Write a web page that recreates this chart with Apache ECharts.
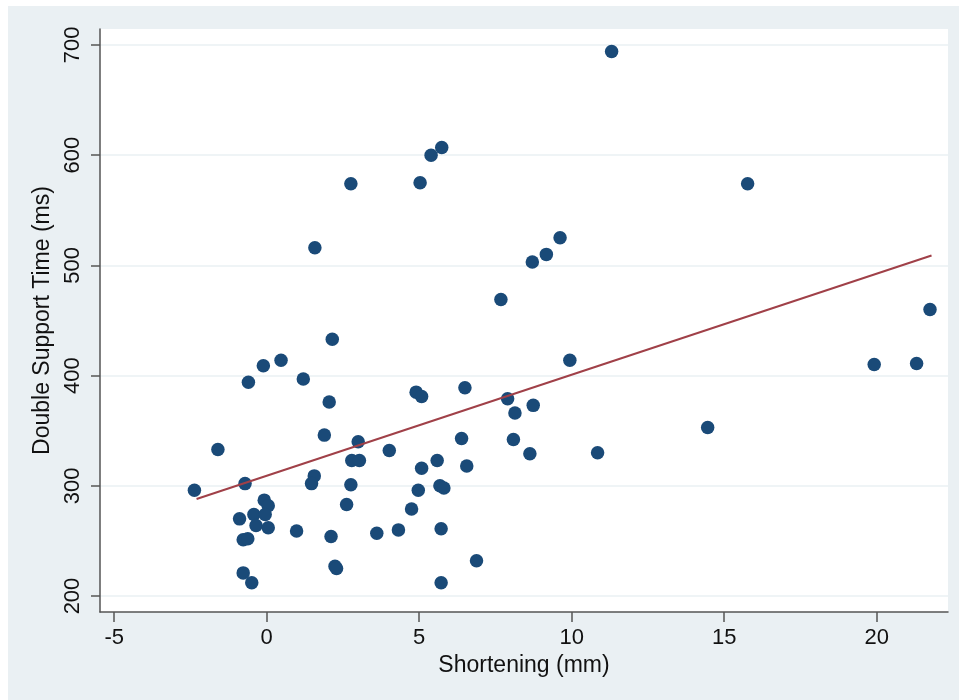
<!DOCTYPE html>
<html>
<head>
<meta charset="utf-8">
<title>Double Support Time vs Shortening</title>
<script src="https://cdn.jsdelivr.net/npm/echarts@6/dist/echarts.min.js"></script>
<style>
  html, body { margin: 0; padding: 0; background: #fff; }
  #main { width: 959px; height: 700px; }
</style>
</head>
<body>
<div id="main"></div>
<script>
  /******************/
  //region    //data

  // shortening (mm) and double support time (ms)
  let shortening = [
    2.76, 5.03, 5.39, 5.74, 1.58, 2.15, 11.31, 15.77, 9.62, 9.17,
    8.71, 7.68, 21.75, 9.94, 19.92, 21.31, 7.90, 8.74, 8.14, 14.46,
    8.09, 8.63, 10.85, 6.88, 0.47, -0.11, -0.60, 1.20, 2.05, 6.50,
    4.90, 5.08, 1.89, -1.60, 3.00, 4.02, 6.39, 2.79, 3.04, 5.59,
    5.08, 6.56, 1.56, 1.47, -0.71, -2.37, 2.76, 4.97, 5.68, 5.81,
    -0.08, 0.05, 2.62, 4.75, -0.89, -0.42, -0.05, -0.35, 0.05, 0.98,
    2.11, 3.61, 4.32, 5.72, -0.77, -0.62, 2.24, 2.29, -0.77, -0.49,
    5.72
  ];
  let supportTime = [
    574, 575, 600, 607, 516, 433, 694, 574, 525, 510,
    503, 469, 460, 414, 410, 411, 379, 373, 366, 353,
    342, 329, 330, 232, 414, 409, 394, 397, 376, 389,
    385, 381, 346, 333, 340, 332, 343, 323, 323, 323,
    316, 318, 309, 302, 302, 296, 301, 296, 300, 298,
    287, 282, 283, 279, 270, 274, 274, 264, 262, 259,
    254, 257, 260, 261, 251, 252, 227, 225, 221, 212,
    212
  ];

  // fitted line end points
  let fitX = [-2.3, 21.8];
  let fitY = [288, 509];

  let xTicks = [-5, 0, 5, 10, 15, 20];
  let yTicks = [200, 300, 400, 500, 600, 700];

  //endregion

  /******************/
  //region    //chart

  let chart = echarts.init(document.getElementById('main'));
  let font = '"Liberation Sans", Arial, Helvetica, sans-serif';
  let axisColor = '#555';
  let textColor = '#111';

  function pairs(xs, ys) {
    return xs.map((x, i) => [x, ys[i]]);
  }

  let option = {
    backgroundColor: '#fff',
    animation: false,
    textStyle: { fontFamily: font },
    graphic: [
      {
        type: 'rect', z: -10, silent: true,
        shape: { x: 8, y: 6, width: 951, height: 694 },
        style: { fill: '#eaf0f3' }
      }
    ],
    grid: {
      left: 100, right: 11, top: 29, bottom: 88,
      show: true, backgroundColor: '#fff', borderWidth: 0
    },
    xAxis: {
      type: 'value',
      min: -5.466, max: 22.34,
      name: 'Shortening (mm)',
      nameLocation: 'middle',
      nameGap: 42,
      nameTextStyle: { fontSize: 23, color: textColor, fontFamily: font },
      axisLine: { show: true, onZero: false, lineStyle: { color: axisColor, width: 1.5 } },
      axisTick: { show: true, length: 10, customValues: xTicks, lineStyle: { color: axisColor, width: 1.5 } },
      axisLabel: { customValues: xTicks, fontSize: 22, color: textColor, margin: 15, fontFamily: font },
      splitLine: { show: false }
    },
    yAxis: {
      type: 'value',
      min: 185.5, max: 714.5,
      name: 'Double Support Time (ms)',
      nameLocation: 'middle',
      nameGap: 46,
      nameTextStyle: { fontSize: 23, color: textColor, fontFamily: font },
      axisLine: { show: true, onZero: false, lineStyle: { color: axisColor, width: 1.5 } },
      axisTick: { show: true, length: 9, customValues: yTicks, lineStyle: { color: axisColor, width: 1.5 } },
      axisLabel: { customValues: yTicks, rotate: 90, fontSize: 22, color: textColor, margin: 16, fontFamily: font },
      splitLine: { show: true, lineStyle: { color: '#eaf0f3', width: 1.5 } }
    },
    series: [
      {
        name: 'DST',
        type: 'scatter',
        data: pairs(shortening, supportTime),
        symbol: 'circle',
        symbolSize: 13.5,
        itemStyle: { color: '#1a4a78', opacity: 1 },
        clip: false
      },
      {
        name: 'Fitted values',
        type: 'line',
        data: pairs(fitX, fitY),
        showSymbol: false,
        symbol: 'none',
        lineStyle: { color: '#a04048', width: 2 },
        z: 3
      }
    ]
  };

  chart.setOption(option);

  //endregion
</script>
</body>
</html>
